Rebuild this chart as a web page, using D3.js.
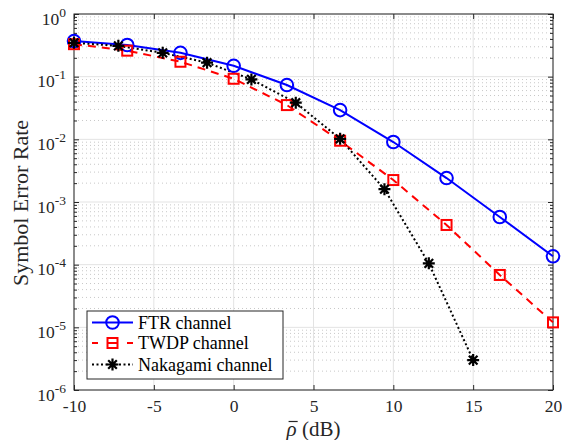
<!DOCTYPE html>
<html><head><meta charset="utf-8">
<script src="https://cdn.jsdelivr.net/npm/d3@7"></script>
<style>
html,body{margin:0;padding:0;background:#fff;}
svg{display:block;font-family:"Liberation Serif","Times New Roman",serif;}
</style></head>
<body>
<svg id="chart" width="562" height="440"></svg>
<script>
// ---- data ----
const ftrX = [-10, -6.667, -3.333, 0, 3.333, 6.667, 10, 13.333, 16.667, 20];
const ftrY = [0.37, 0.32, 0.24, 0.149, 0.0735, 0.0293, 0.00906, 0.00241, 0.000577, 0.000136];
const twdpX = [-10, -6.667, -3.333, 0, 3.333, 6.667, 10, 13.333, 16.667, 20];
const twdpY = [0.33, 0.26, 0.173, 0.0926, 0.0352, 0.0095, 0.00224, 0.00043, 0.0000685, 0.000012];
const nakX = [-10, -7.222, -4.444, -1.667, 1.111, 3.889, 6.667, 9.444, 12.222, 15];
const nakY = [0.347, 0.31, 0.24, 0.167, 0.0905, 0.0384, 0.0102, 0.0016, 0.000105, 0.000003];
const xTicks = [-10, -5, 0, 5, 10, 15, 20];
const xTickLabels = ["-10", "-5", "0", "5", "10", "15", "20"];
const yExponents = [0, -1, -2, -3, -4, -5, -6];
const seriesNames = ["FTR channel", "TWDP channel", "Nakagami channel"];

const svg = d3.select("#chart");
const L = 74, R = 553, T = 14, B = 390;
const x = d3.scaleLinear().domain([-10, 20]).range([L, R]);
const y = d3.scaleLog().domain([1e-6, 1]).range([B, T]);

const axisColor = "#262626";
const tickFont = 17.5;

// grid
const grid = svg.append("g");
const minorVals = [];
for (let e = -6; e < 0; e++) for (let m = 2; m <= 9; m++) minorVals.push(m * Math.pow(10, e));
grid.selectAll("line.minor").data(minorVals).enter().append("line")
  .attr("x1", L).attr("x2", R)
  .attr("y1", d => y(d)).attr("y2", d => y(d))
  .attr("stroke", "#c8c8c8").attr("stroke-width", 1).attr("stroke-dasharray", "1,3");
grid.selectAll("line.majy").data(yExponents).enter().append("line")
  .attr("x1", L).attr("x2", R)
  .attr("y1", d => y(Math.pow(10, d))).attr("y2", d => y(Math.pow(10, d)))
  .attr("stroke", "#e3e3e3").attr("stroke-width", 1);
grid.selectAll("line.majx").data(xTicks).enter().append("line")
  .attr("x1", d => x(d)).attr("x2", d => x(d))
  .attr("y1", T).attr("y2", B)
  .attr("stroke", "#e3e3e3").attr("stroke-width", 1);

// axes
const xAxisB = d3.axisBottom(x).tickValues(xTicks).tickSize(-5).tickFormat((d, i) => xTickLabels[i]).tickPadding(10);
const gxb = svg.append("g").attr("transform", `translate(0,${B})`).call(xAxisB);
gxb.select(".domain").remove();
gxb.selectAll("line").attr("stroke", axisColor);
gxb.selectAll("text").attr("font-size", tickFont).attr("fill", axisColor).attr("font-family", "Liberation Serif");

const xAxisT = d3.axisTop(x).tickValues(xTicks).tickSize(-5).tickFormat("");
const gxt = svg.append("g").attr("transform", `translate(0,${T})`).call(xAxisT);
gxt.select(".domain").remove();
gxt.selectAll("line").attr("stroke", axisColor);

const majVals = yExponents.map(e => Math.pow(10, e));
function yAxisPart(axisFn, pos, vals, size) {
  const g = svg.append("g").attr("transform", `translate(${pos},0)`)
    .call(axisFn(y).tickValues(vals).tickSize(size).tickFormat(""));
  g.select(".domain").remove();
  g.selectAll("line").attr("stroke", axisColor);
}
yAxisPart(d3.axisLeft, L, majVals, -5);
yAxisPart(d3.axisLeft, L, minorVals, -3);
yAxisPart(d3.axisRight, R, majVals, -5);
yAxisPart(d3.axisRight, R, minorVals, -3);

// y tick labels with superscripts
const ylab = svg.append("g");
yExponents.forEach(e => {
  const t = ylab.append("text")
    .attr("x", L - 8).attr("y", y(Math.pow(10, e)) + 10.5)
    .attr("text-anchor", "end").attr("font-size", tickFont).attr("fill", axisColor);
  t.append("tspan").text("10");
  t.append("tspan").attr("dy", -8).attr("font-size", 13.5).text(String(e));
});

// box
svg.append("rect").attr("x", L).attr("y", T).attr("width", R - L).attr("height", B - T)
  .attr("fill", "none").attr("stroke", axisColor).attr("stroke-width", 1);

// series
const line = d3.line().x(d => x(d[0])).y(d => y(d[1]));
const zip = (a, b) => a.map((v, i) => [v, b[i]]);
const ftr = zip(ftrX, ftrY), twdp = zip(twdpX, twdpY), nak = zip(nakX, nakY);

const plot = svg.append("g");
plot.append("path").attr("d", line(ftr)).attr("fill", "none").attr("stroke", "#0000ff").attr("stroke-width", 2);
plot.append("path").attr("d", line(twdp)).attr("fill", "none").attr("stroke", "#ff0000").attr("stroke-width", 2).attr("stroke-dasharray", "8,6");
plot.append("path").attr("d", line(nak)).attr("fill", "none").attr("stroke", "#000").attr("stroke-width", 2).attr("stroke-dasharray", "2,2.5");

function circleMarker(g, cx, cy) {
  g.append("circle").attr("cx", cx).attr("cy", cy).attr("r", 6.3)
    .attr("fill", "none").attr("stroke", "#0000ff").attr("stroke-width", 2);
}
function squareMarker(g, cx, cy) {
  g.append("rect").attr("x", cx - 5).attr("y", cy - 5).attr("width", 10).attr("height", 10)
    .attr("fill", "none").attr("stroke", "#ff0000").attr("stroke-width", 2);
}
function starMarker(g, cx, cy) {
  const r = 6, d = r * 0.72;
  const p = `M${cx - r},${cy}L${cx + r},${cy}M${cx},${cy - r}L${cx},${cy + r}` +
    `M${cx - d},${cy - d}L${cx + d},${cy + d}M${cx - d},${cy + d}L${cx + d},${cy - d}`;
  g.append("path").attr("d", p).attr("stroke", "#000").attr("stroke-width", 2.2).attr("fill", "none");
}
ftr.forEach(d => circleMarker(plot, x(d[0]), y(d[1])));
twdp.forEach(d => squareMarker(plot, x(d[0]), y(d[1])));
nak.forEach(d => starMarker(plot, x(d[0]), y(d[1])));

// legend
const lg = svg.append("g");
lg.append("rect").attr("x", 87).attr("y", 311).attr("width", 196).attr("height", 68)
  .attr("fill", "#fff").attr("stroke", axisColor).attr("stroke-width", 1);
const rows = [322.5, 343, 364.5];
const styles = [
  {c: "#0000ff", dash: null, m: circleMarker},
  {c: "#ff0000", dash: "6,9.5,10,9.5,6", m: squareMarker},
  {c: "#000", dash: "2,2.5", m: starMarker}
];
rows.forEach((ry, i) => {
  const s = styles[i];
  const ln = lg.append("line").attr("x1", 92).attr("x2", 133).attr("y1", ry).attr("y2", ry)
    .attr("stroke", s.c).attr("stroke-width", 2);
  if (s.dash) ln.attr("stroke-dasharray", s.dash);
  s.m(lg, 112.5, ry);
  lg.append("text").attr("x", 138).attr("y", ry + 6).attr("font-size", 18)
    .attr("fill", "#000").text(seriesNames[i]);
});

// axis labels
svg.append("text").attr("transform", `translate(28,${(T + B) / 2 + 1}) rotate(-90)`)
  .attr("text-anchor", "middle").attr("font-size", 22).attr("fill", axisColor)
  .text("Symbol Error Rate");
const xlY = 435.5;
const xl = svg.append("text").attr("x", (L + R) / 2).attr("y", xlY)
  .attr("text-anchor", "middle").attr("font-size", 21).attr("fill", axisColor);
xl.append("tspan").attr("font-style", "italic").text("ρ");
xl.append("tspan").text(" (dB)");
// macron over rho
const node = xl.node();
const s0 = node.getStartPositionOfChar(0), e0 = node.getEndPositionOfChar(0);
svg.append("line")
  .attr("x1", s0.x + 2).attr("x2", e0.x + 1)
  .attr("y1", xlY - 14).attr("y2", xlY - 14)
  .attr("stroke", axisColor).attr("stroke-width", 1.2);
</script>
</body></html>
